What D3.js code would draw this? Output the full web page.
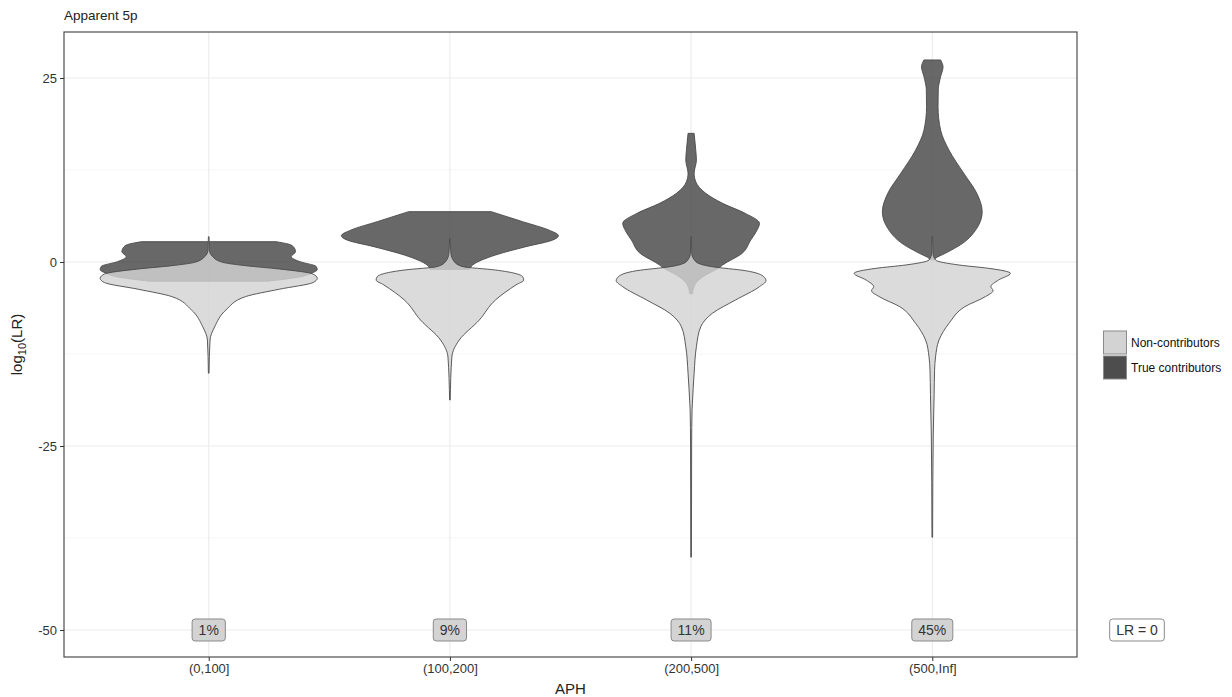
<!DOCTYPE html>
<html>
<head>
<meta charset="utf-8">
<script src="https://cdn.jsdelivr.net/npm/d3@7"></script>
<style>
  body { margin: 0; background: #fff; }
  svg { display: block; font-family: "Liberation Sans", Arial, sans-serif; }
</style>
</head>
<body>
<svg id="chart" width="1232" height="697"></svg>
<script>
// APH bins on the x axis
const categories = ["(0,100]", "(100,200]", "(200,500]", "(500,Inf]"];
const groups = ["Non-contributors", "True contributors"];

// Violin profiles: [log10(LR), relative density] per APH bin, low to high
const trueContributors = [
  [[-2.6,0.55],[-2.0,0.85],[-1.5,0.95],[-1.06,1.0],[-0.6,0.99],[0.05,0.84],[0.72,0.76],[1.4,0.80],[2.08,0.78],[2.45,0.73],[2.76,0.62]],
  [[-1.0,0.18],[-0.41,0.21],[0.95,0.42],[2.08,0.70],[3.0,0.95],[3.58,1.0],[4.35,0.91],[5.48,0.67],[6.84,0.38]],
  [[-4.3,0.012],[-2.9,0.043],[-1.77,0.135],[-0.77,0.26],[-0.41,0.29],[1.18,0.47],[3.0,0.55],[4.12,0.60],[5.26,0.63],[6.6,0.50],[7.97,0.29],[9.33,0.135],[10.9,0.043],[12.05,0.028],[13.86,0.049],[15.2,0.043],[17.48,0.028]],
  [[0.3,0.02],[0.5,0.03],[1.18,0.12],[2.54,0.28],[4.57,0.41],[6.84,0.46],[9.33,0.41],[12.05,0.29],[15.2,0.154],[17.9,0.077],[21.1,0.053],[23.4,0.055],[25.2,0.077],[26.5,0.099],[27.45,0.077]]
];

const nonContributors = [
  [[-15.1,0.003],[-10.6,0.012],[-8.8,0.055],[-6.5,0.16],[-4.7,0.34],[-3.7,0.65],[-2.8,0.96],[-2.22,1.0],[-1.63,0.96],[-0.95,0.65],[-0.5,0.34],[-0.05,0.13],[0.72,0.037],[1.63,0.006],[3.44,0.003]],
  [[-18.75,0.003],[-12.9,0.018],[-10.6,0.086],[-7.9,0.27],[-5.16,0.42],[-3.1,0.61],[-2.45,0.68],[-2.0,0.67],[-1.09,0.42],[-0.63,0.12],[0.05,0.04],[1.18,0.009],[3.22,0.003]],
  [[-40.1,0.003],[-25,0.005],[-20,0.009],[-19.2,0.012],[-15.1,0.028],[-11.5,0.049],[-8.8,0.089],[-6.97,0.196],[-5.16,0.41],[-3.35,0.63],[-2.54,0.69],[-2.0,0.67],[-1.18,0.50],[-0.63,0.19],[0.05,0.043],[1.18,0.006],[3.44,0.003]],
  [[-37.4,0.003],[-30,0.005],[-23.5,0.009],[-18,0.017],[-14.7,0.021],[-12.9,0.03],[-10.6,0.062],[-8.33,0.154],[-6.07,0.30],[-4.7,0.49],[-3.9,0.56],[-3.35,0.54],[-2.45,0.61],[-1.54,0.72],[-0.86,0.52],[-0.41,0.246],[0.27,0.03],[1.18,0.006],[3.44,0.003]]
];

// Share of comparisons with LR = 0, in percent
const zeroShare = [1, 9, 11, 45];

const yTicks = [25, 0, -25, -50];
const yMinorTicks = [12.5, -12.5, -37.5];

const svg = d3.select("#chart");
const panel = { left: 64, top: 32, right: 1077, bottom: 657 };

const x = d3.scalePoint().domain(categories).range([panel.left, panel.right]).padding(0.6);
const y = d3.scaleLinear().domain([-53.67, 31.25]).range([panel.bottom, panel.top]);
const w = d3.scaleLinear().domain([0, 1]).range([0, x.step() * 0.45]);

const colors = { dark: "#474747", light: "#d3d3d3", outline: "#4a4a4a" };

// panel background and grid
svg.append("rect")
  .attr("x", panel.left).attr("y", panel.top)
  .attr("width", panel.right - panel.left).attr("height", panel.bottom - panel.top)
  .attr("fill", "#fff");

const grid = svg.append("g");
grid.selectAll("line.minor").data(yMinorTicks).join("line")
  .attr("x1", panel.left).attr("x2", panel.right)
  .attr("y1", d => y(d)).attr("y2", d => y(d))
  .attr("stroke", "#f1f1f1").attr("stroke-width", 0.7);
grid.selectAll("line.majorY").data(yTicks).join("line")
  .attr("x1", panel.left).attr("x2", panel.right)
  .attr("y1", d => y(d)).attr("y2", d => y(d))
  .attr("stroke", "#ebebeb").attr("stroke-width", 1.1);
grid.selectAll("line.majorX").data(categories).join("line")
  .attr("y1", panel.top).attr("y2", panel.bottom)
  .attr("x1", d => x(d)).attr("x2", d => x(d))
  .attr("stroke", "#ebebeb").attr("stroke-width", 1.1);

// violins
function violinArea(cx) {
  return d3.area()
    .curve(d3.curveMonotoneY)
    .y(d => y(d[0]))
    .x0(d => cx - w(d[1]))
    .x1(d => cx + w(d[1]));
}

const violins = svg.append("g");
categories.forEach((c, i) => {
  const cx = x(c);
  violins.append("path")
    .attr("d", violinArea(cx)(trueContributors[i]))
    .attr("fill", colors.dark).attr("fill-opacity", 0.82)
    .attr("stroke", colors.outline).attr("stroke-width", 0.9)
    .attr("stroke-linejoin", "round");
  violins.append("path")
    .attr("d", violinArea(cx)(nonContributors[i]))
    .attr("fill", colors.light).attr("fill-opacity", 0.82)
    .attr("stroke", colors.outline).attr("stroke-width", 0.9)
    .attr("stroke-linejoin", "round");
});

// LR = 0 share labels
function drawLabel(g, text, fill) {
  const t = g.append("text")
    .attr("text-anchor", "middle").attr("dy", "0.36em")
    .attr("font-size", 14).attr("fill", "#333").text(text);
  const len = t.node().getComputedTextLength();
  g.insert("rect", "text")
    .attr("x", -len / 2 - 6.5).attr("y", -11)
    .attr("width", len + 13).attr("height", 22)
    .attr("rx", 3).attr("ry", 3)
    .attr("fill", fill).attr("stroke", "#8a8a8a").attr("stroke-width", 1);
}

const labels = svg.append("g");
categories.forEach((c, i) => {
  const g = labels.append("g").attr("transform", `translate(${x(c)},${y(-50)})`);
  drawLabel(g, zeroShare[i] + "%", "#d3d3d3");
});

// panel border
svg.append("rect")
  .attr("x", panel.left).attr("y", panel.top)
  .attr("width", panel.right - panel.left).attr("height", panel.bottom - panel.top)
  .attr("fill", "none").attr("stroke", "#4d4d4d").attr("stroke-width", 1.2);

// axes
const yAxis = svg.append("g")
  .attr("transform", `translate(${panel.left},0)`)
  .call(d3.axisLeft(y).tickValues(yTicks).tickFormat(d => String(d)).tickSize(4).tickPadding(3));
const xAxis = svg.append("g")
  .attr("transform", `translate(0,${panel.bottom})`)
  .call(d3.axisBottom(x).tickSize(4).tickPadding(3));
[yAxis, xAxis].forEach(a => {
  a.select(".domain").remove();
  a.selectAll(".tick line").attr("stroke", "#333").attr("stroke-width", 1);
  a.selectAll(".tick text").attr("fill", "#333").attr("font-size", 13)
    .attr("font-family", "Liberation Sans, Arial, sans-serif");
});

// titles
svg.append("text")
  .attr("x", 64).attr("y", 20)
  .attr("font-size", 13.5).attr("fill", "#222")
  .text("Apparent 5p");

svg.append("text")
  .attr("x", (panel.left + panel.right) / 2).attr("y", 694)
  .attr("text-anchor", "middle").attr("font-size", 15).attr("fill", "#222")
  .text("APH");

const yTitle = svg.append("text")
  .attr("transform", `translate(22,${(panel.top + panel.bottom) / 2}) rotate(-90)`)
  .attr("text-anchor", "middle").attr("font-size", 15).attr("fill", "#222");
yTitle.append("tspan").text("log");
yTitle.append("tspan").attr("font-size", 11).attr("dy", 4).text("10");
yTitle.append("tspan").attr("dy", -4).text("(LR)");

// legend
const legend = svg.append("g").attr("transform", "translate(1103.5,331)");
const legendFill = [colors.light, "#4d4d4d"];
groups.forEach((gname, i) => {
  const row = legend.append("g").attr("transform", `translate(0,${i * 25})`);
  row.append("rect")
    .attr("width", 23).attr("height", 23)
    .attr("fill", legendFill[i]).attr("stroke", "#8a8a8a").attr("stroke-width", 1);
  row.append("text")
    .attr("x", 27.5).attr("y", 11.5).attr("dy", "0.36em")
    .attr("font-size", 12).attr("fill", "#111").text(gname);
});

const lrKey = svg.append("g").attr("transform", `translate(1137,${y(-50)})`);
drawLabel(lrKey, "LR = 0", "#fff");
</script>
</body>
</html>
